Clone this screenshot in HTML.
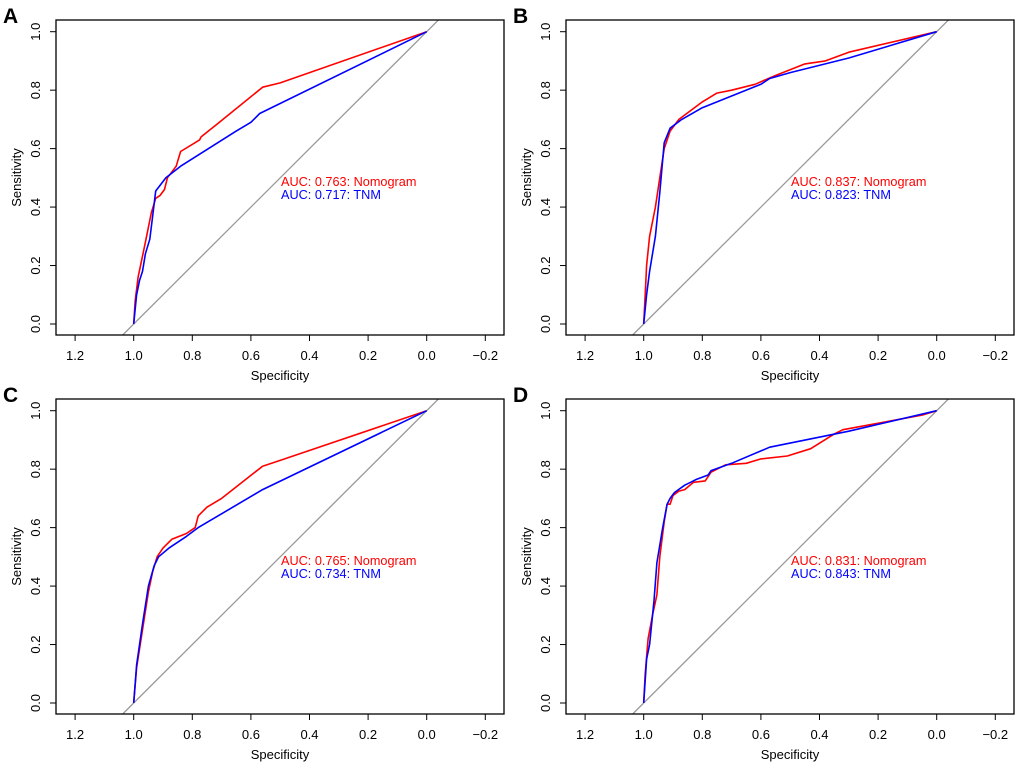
<!DOCTYPE html>
<html><head><meta charset="utf-8"><style>
body{margin:0;background:#fff}
svg{display:block;font-family:"Liberation Sans",Arial,sans-serif}
</style></head><body>
<svg id="fig" width="1020" height="766"></svg>
<script>
const panelLabels=["A","B","C","D"];
const aucNomogram=["0.763","0.837","0.765","0.831"];
const aucTNM=["0.717","0.823","0.734","0.843"];
const xTicks=[1.2,1.0,0.8,0.6,0.4,0.2,0.0,-0.2];
const yTicks=[0.0,0.2,0.4,0.6,0.8,1.0];
const redA=[[1,0],[0.995,0.08],[0.985,0.16],[0.96,0.28],[0.94,0.38],[0.925,0.43],[0.91,0.44],[0.895,0.46],[0.885,0.5],[0.855,0.54],[0.84,0.59],[0.775,0.63],[0.77,0.64],[0.72,0.68],[0.56,0.81],[0.5,0.825],[0,1]];
const blueA=[[1,0],[0.99,0.1],[0.98,0.15],[0.97,0.18],[0.96,0.24],[0.945,0.29],[0.935,0.37],[0.925,0.455],[0.89,0.5],[0.84,0.54],[0.65,0.66],[0.6,0.69],[0.57,0.72],[0,1]];
const redB=[[1,0],[0.995,0.1],[0.99,0.2],[0.98,0.3],[0.96,0.4],[0.945,0.5],[0.93,0.6],[0.91,0.66],[0.88,0.7],[0.84,0.73],[0.8,0.76],[0.75,0.79],[0.7,0.8],[0.62,0.82],[0.55,0.85],[0.45,0.89],[0.38,0.9],[0.3,0.93],[0,1]];
const blueB=[[1,0],[0.99,0.1],[0.98,0.18],[0.96,0.3],[0.945,0.45],[0.93,0.62],[0.91,0.67],[0.87,0.7],[0.8,0.74],[0.7,0.78],[0.6,0.82],[0.57,0.84],[0.5,0.86],[0.3,0.91],[0,1]];
const redC=[[1,0],[0.99,0.12],[0.97,0.25],[0.95,0.38],[0.935,0.45],[0.92,0.5],[0.9,0.53],[0.87,0.56],[0.82,0.58],[0.79,0.6],[0.78,0.64],[0.75,0.67],[0.7,0.7],[0.56,0.81],[0.5,0.83],[0,1]];
const blueC=[[1,0],[0.99,0.13],[0.97,0.27],[0.95,0.4],[0.93,0.47],[0.915,0.5],[0.88,0.53],[0.82,0.57],[0.78,0.6],[0.56,0.73],[0,1]];
const redD=[[1,0],[0.995,0.1],[0.985,0.22],[0.97,0.3],[0.955,0.37],[0.945,0.5],[0.93,0.62],[0.92,0.68],[0.91,0.68],[0.9,0.71],[0.88,0.725],[0.86,0.73],[0.83,0.755],[0.79,0.76],[0.77,0.79],[0.74,0.805],[0.72,0.815],[0.65,0.82],[0.6,0.835],[0.51,0.845],[0.43,0.87],[0.35,0.92],[0.32,0.935],[0.05,0.985],[0,1]];
const blueD=[[1,0],[0.99,0.15],[0.98,0.2],[0.965,0.35],[0.955,0.48],[0.935,0.6],[0.92,0.68],[0.91,0.7],[0.895,0.72],[0.86,0.745],[0.84,0.755],[0.82,0.765],[0.78,0.78],[0.77,0.795],[0.7,0.82],[0.57,0.875],[0.3,0.93],[0,1]];
const redSeries=[redA,redB,redC,redD];
const blueSeries=[blueA,blueB,blueC,blueD];

const NS="http://www.w3.org/2000/svg";
const fig=document.getElementById('fig');
function mk(tag,attrs,parent){const e=document.createElementNS(NS,tag);for(const k in attrs)e.setAttribute(k,attrs[k]);parent.appendChild(e);return e;}
function txt(parent,x,y,s,attrs){const t=mk('text',Object.assign({x:x,y:y},attrs||{}),parent);t.textContent=s;return t;}

for(let p=0;p<4;p++){
  const ox=(p%2)*510, oy=Math.floor(p/2)*379;
  const g=mk('g',{transform:`translate(${ox},${oy})`},fig);
  
  
  const X=v=>426.7+(0-v)*293;
  const Y=v=>324-v*292.3;
  const L=56,R=504,T=20,B=335;
  const cp=mk('clipPath',{id:'clip'+p},g);mk('rect',{x:L,y:T,width:R-L,height:B-T},cp);
  const d=mk('line',{x1:X(1.2),y1:Y(-0.2),x2:X(-0.2),y2:Y(1.2),stroke:'#999',"stroke-width":1.3,"clip-path":`url(#clip${p})`},g);
  
  
  const series=[[redSeries[p],'#ff0000','nomogram-curve'],[blueSeries[p],'#0000ff','tnm-curve']];
  series.forEach(s=>{
    const pl=mk('polyline',{points:s[0].map(q=>X(q[0]).toFixed(1)+','+Y(q[1]).toFixed(1)).join(' '),fill:'none',stroke:s[1],"stroke-width":1.6,"stroke-linejoin":'round'},g);
    
    
  });
  const box=mk('rect',{x:L,y:T,width:R-L,height:B-T,fill:'none',stroke:'#000',"stroke-width":1.3},g);
  
  
  xTicks.forEach(v=>{
    mk('line',{x1:X(v),y1:B,x2:X(v),y2:B+6,stroke:'#000'},g);
    const t=txt(g,X(v),B+25,(v<0?'\u22120.2':v.toFixed(1)),{"text-anchor":'middle',"font-size":13});
    
    
  });
  mk('line',{x1:X(1.2),y1:B,x2:X(-0.2),y2:B,stroke:'#000'},g);
  yTicks.forEach(v=>{
    mk('line',{x1:L,y1:Y(v),x2:L-6,y2:Y(v),stroke:'#000'},g);
    const t=txt(g,0,0,v.toFixed(1),{"text-anchor":'middle',"font-size":13,transform:`translate(${L-16},${Y(v)}) rotate(-90)`});
    
    
  });
  const xt=txt(g,(L+R)/2,380,'Specificity',{"text-anchor":'middle',"font-size":13});
  
  
  const yt=txt(g,0,0,'Sensitivity',{"text-anchor":'middle',"font-size":13,transform:`translate(21,${(T+B)/2}) rotate(-90)`});
  
  
  const pt=txt(g,3,23,panelLabels[p],{"font-size":21,"font-weight":'bold'});
  
  
  const a1=txt(g,281,186,'AUC: '+aucNomogram[p]+': Nomogram',{"font-size":12.7,fill:'#ff0000'});
  
  
  const a2=txt(g,281,199,'AUC: '+aucTNM[p]+': TNM',{"font-size":12.7,fill:'#0000ff'});
  
  
}
</script>
</body></html>
